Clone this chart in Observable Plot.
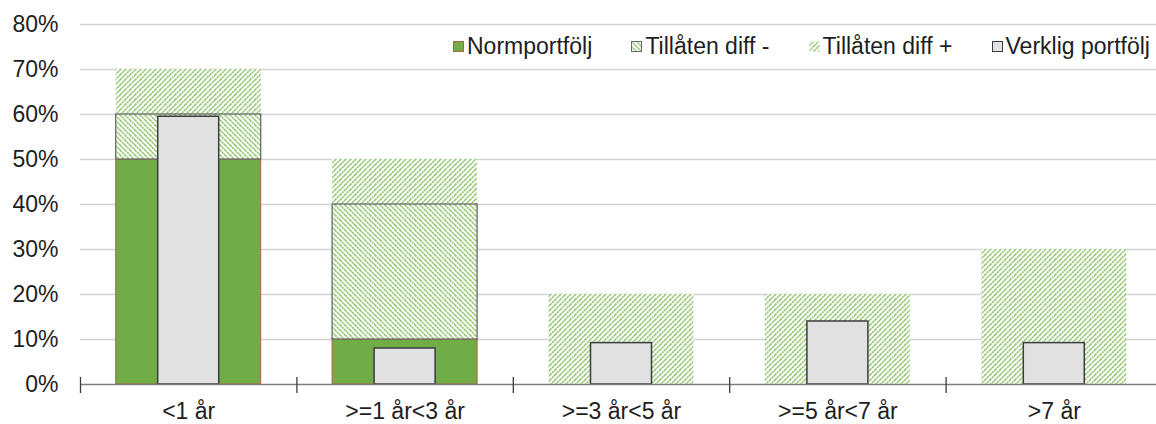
<!DOCTYPE html>
<html>
<head>
<meta charset="utf-8">
<script src="https://cdn.jsdelivr.net/npm/d3@7"></script>
<script src="https://cdn.jsdelivr.net/npm/@observablehq/plot@0.6"></script>
<style>
  html, body { margin: 0; padding: 0; background: #fff; }
  #wrap { position: relative; width: 1156px; height: 424px; font-family: "Liberation Sans", Arial, sans-serif; }
  #legend { position: absolute; top: 33px; left: 453px; width: 697px; display: flex; justify-content: space-between; align-items: center; font-size: 23px; line-height: 26px; color: #1e1e1e; white-space: nowrap; }
  #legend .item { display: flex; align-items: center; }
  #legend svg { margin-right: 3px; }
</style>
</head>
<body>
<div id="wrap"><div id="legend"></div></div>
<script>
const categories = ["<1 år", ">=1 år<3 år", ">=3 år<5 år", ">=5 år<7 år", ">7 år"];
const normportfolj = [0.50, 0.10, 0.00, 0.00, 0.00];
const tillatenDiffMinus = [0.10, 0.30, 0.00, 0.00, 0.00];
const tillatenDiffPlus = [0.10, 0.10, 0.20, 0.20, 0.30];
const verkligPortfolj = [0.595, 0.08, 0.092, 0.14, 0.092];
const seriesNames = ["Normportfölj", "Tillåten diff -", "Tillåten diff +", "Verklig portfölj"];
const yTicks = [0, 0.1, 0.2, 0.3, 0.4, 0.5, 0.6, 0.7, 0.8];

const W = 1156, H = 424;
const marginLeft = 80, marginTop = 24, marginBottom = 40;
const xRange = [80, 1162];
const step = (xRange[1] - xRange[0]) / categories.length;
const stackInset = (step - 145) / 2;
const verkligInset = (step - 61) / 2;

const stacked = [];
categories.forEach((c, i) => {
  let base = 0;
  [[seriesNames[0], normportfolj[i]], [seriesNames[1], tillatenDiffMinus[i]], [seriesNames[2], tillatenDiffPlus[i]]].forEach(([s, v]) => {
    if (v > 0) stacked.push({ i, cat: c, series: s, y1: base, y2: base + v });
    base += v;
  });
});
const verklig = categories.map((c, i) => ({ i, cat: c, v: verkligPortfolj[i] }));
const catMid = categories.map((c, i) => i + 0.5);
const boundaries = categories.map((c, i) => i).concat([categories.length]);

const chart = Plot.plot({
  width: W, height: H,
  marginLeft, marginRight: 0, marginTop, marginBottom,
  style: { fontFamily: "'Liberation Sans', Arial, sans-serif", fontSize: "23px", color: "#1e1e1e", background: "transparent" },
  x: { type: "linear", domain: [0, categories.length], range: xRange, axis: null },
  y: { domain: [0, 0.8], axis: null },
  marks: [
    Plot.gridY(yTicks.filter(t => t > 0), { stroke: "#d3d3d3", strokeOpacity: 1, strokeWidth: 1.4 }),
    Plot.rectY(stacked.filter(d => d.series === seriesNames[0]), {
      x1: d => d.i, x2: d => d.i + 1, y1: "y1", y2: "y2",
      insetLeft: stackInset, insetRight: stackInset,
      fill: "#70ad47", stroke: "#b5603f", strokeWidth: 1
    }),
    Plot.rectY(stacked.filter(d => d.series === seriesNames[2]), {
      x1: d => d.i, x2: d => d.i + 1, y1: "y1", y2: "y2",
      insetLeft: stackInset, insetRight: stackInset,
      fill: "url(#patPlus)"
    }),
    Plot.rectY(stacked.filter(d => d.series === seriesNames[1]), {
      x1: d => d.i, x2: d => d.i + 1, y1: "y1", y2: "y2",
      insetLeft: stackInset, insetRight: stackInset,
      fill: "url(#patMinus)", stroke: "#6a6a6a", strokeWidth: 1.3
    }),
    Plot.rectY(verklig, {
      x1: d => d.i, x2: d => d.i + 1, y1: 0, y2: "v",
      insetLeft: verkligInset, insetRight: verkligInset,
      fill: "#e1e1e1", stroke: "#3c3c3c", strokeWidth: 1.5
    }),
    Plot.ruleY([0], { stroke: "#7f7f7f", strokeWidth: 1.6 }),
    Plot.ruleX(boundaries, { x: d => d, y1: 0, y2: 0, insetTop: -7, insetBottom: -9, stroke: "#3c3c3c", strokeWidth: 1.3 }),
    Plot.axisX(catMid, { tickSize: 0, tickPadding: 18, tickFormat: (d) => categories[Math.floor(d)], fontSize: 23, fill: "#1e1e1e" }),
    Plot.axisY(yTicks, { tickSize: 0, tickPadding: 22, tickFormat: d3.format(".0%"), fontSize: 23, fill: "#1e1e1e" })
  ]
});

const defs = d3.select(chart).insert("defs", ":first-child");
function addPattern(id, forward) {
  const p = defs.append("pattern").attr("id", id).attr("patternUnits", "userSpaceOnUse").attr("width", 5).attr("height", 5);
  p.append("rect").attr("width", 5).attr("height", 5).attr("fill", "#ffffff");
  const path = forward
    ? "M0,5 L5,0 M-1.25,1.25 L1.25,-1.25 M3.75,6.25 L6.25,3.75"
    : "M0,0 L5,5 M-1.25,3.75 L1.25,6.25 M3.75,-1.25 L6.25,1.25";
  p.append("path").attr("d", path).attr("stroke", "#96c878").attr("stroke-width", 1.7).attr("stroke-dasharray", "2.2 0.6");
}
addPattern("patPlus", true);
addPattern("patMinus", false);

const wrap = document.getElementById("wrap");
wrap.insertBefore(chart, wrap.firstChild);
chart.style.position = "absolute";
chart.style.left = "0";
chart.style.top = "0";

const legend = d3.select("#legend");
const markers = [
  { fill: "#70ad47", stroke: "#b5603f" },
  { fill: "url(#patMinus)", stroke: "#6a6a6a" },
  { fill: "url(#patPlus)", stroke: "none" },
  { fill: "#e1e1e1", stroke: "#3c3c3c" }
];
seriesNames.forEach((name, k) => {
  const item = legend.append("div").attr("class", "item");
  const s = item.append("svg").attr("width", 11).attr("height", 11);
  s.append("rect").attr("x", 0.5).attr("y", 0.5).attr("width", 10).attr("height", 10)
    .attr("fill", markers[k].fill).attr("stroke", markers[k].stroke).attr("stroke-width", 1);
  item.append("span").text(name);
});
</script>
</body>
</html>
